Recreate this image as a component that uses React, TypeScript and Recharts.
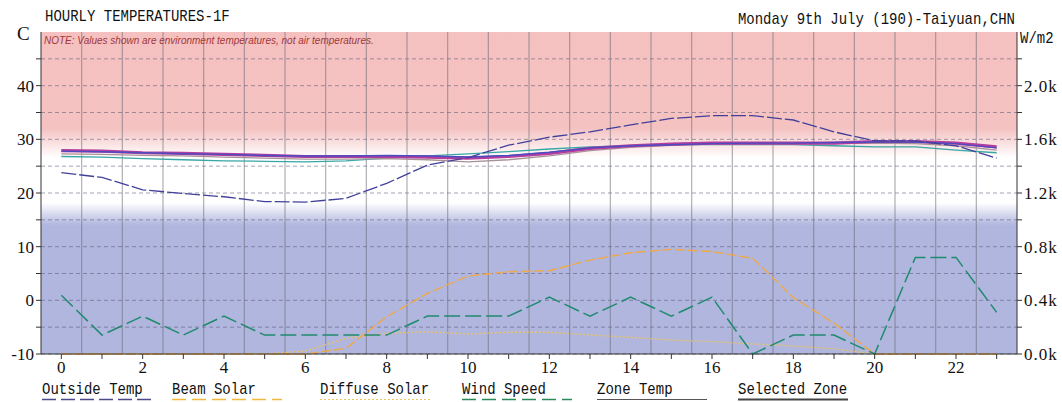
import React from 'react';
import { LineChart, Line, XAxis, YAxis, CartesianGrid, ReferenceLine } from 'recharts';

// hourly values, 0..23
const hours = [0, 1, 2, 3, 4, 5, 6, 7, 8, 9, 10, 11, 12, 13, 14, 15, 16, 17, 18, 19, 20, 21, 22, 23];
const outsideTemp = [23.8, 22.9, 20.6, 19.9, 19.3, 18.4, 18.3, 19.0, 21.8, 25.2, 26.6, 28.9, 30.4, 31.4, 32.7, 33.9, 34.4, 34.4, 33.6, 31.4, 29.7, 29.7, 28.8, 26.5];
const selectedZone = [27.9, 27.8, 27.5, 27.4, 27.2, 27.0, 26.8, 26.8, 26.8, 26.7, 26.5, 26.8, 27.4, 28.3, 28.8, 29.1, 29.3, 29.3, 29.3, 29.3, 29.6, 29.6, 29.3, 28.6];
const zoneA = [27.8, 27.7, 27.5, 27.3, 27.2, 27.0, 26.9, 26.9, 27.0, 26.9, 26.7, 27.0, 27.6, 28.4, 28.8, 29.0, 29.2, 29.3, 29.3, 29.4, 29.5, 29.5, 29.2, 28.4];
const zoneB = [27.3, 27.2, 27.0, 26.9, 26.7, 26.5, 26.3, 26.3, 26.4, 26.2, 25.8, 26.2, 26.9, 27.9, 28.5, 28.9, 29.1, 29.2, 29.2, 29.2, 29.3, 29.2, 28.8, 28.0];
const zoneC = [26.8, 26.7, 26.4, 26.2, 26.0, 25.9, 25.8, 26.0, 26.5, 26.9, 27.3, 27.7, 28.2, 28.6, 28.8, 29.0, 29.0, 29.0, 29.0, 28.8, 28.6, 28.6, 28.0, 27.5];
const beamSolar = [0, 0, 0, 0, 0, 0, 0, 42, 278, 452, 581, 613, 621, 700, 755, 780, 763, 713, 420, 230, 0, 0, 0, 0];
const diffuseSolar = [0, 0, 0, 0, 0, 0, 22, 117, 154, 166, 149, 162, 162, 142, 124, 104, 92, 75, 60, 38, 0, 0, 0, 0];
const windSpeed = [3.1, 1, 2, 1, 2, 1, 1, 1, 1, 2, 2, 2, 3, 2, 3, 2, 3, 0, 1, 1, 0, 5.1, 5.1, 2.2];

const tempTicks = [-10, -5, 0, 5, 10, 15, 20, 25, 30, 35, 40, 45];
const solarTicks = [0, 200, 400, 600, 800, 1000, 1200, 1400, 1600, 1800, 2000, 2200];
const halfHours = [0.5, 1.5, 2.5, 3.5, 4.5, 5.5, 6.5, 7.5, 8.5, 9.5, 10.5, 11.5, 12.5, 13.5, 14.5, 15.5, 16.5, 17.5, 18.5, 19.5, 20.5, 21.5, 22.5];

const legendItems = [
  { name: 'Outside Temp', x: 42, color: '#4a4a8c', dash: '14 5', width: 1.5 },
  { name: 'Beam Solar', x: 172, color: '#f2b840', dash: '14 6', width: 1.5 },
  { name: 'Diffuse Solar', x: 320, color: '#e8c860', dash: '2 2', width: 1.2 },
  { name: 'Wind Speed', x: 462, color: '#2a8a5a', dash: '14 6', width: 1.5 },
  { name: 'Zone Temp', x: 597, color: '#555555', dash: undefined, width: 1 },
  { name: 'Selected Zone', x: 738, color: '#444444', dash: undefined, width: 2 },
];

const data = hours.map((h, i) => ({
  hour: h,
  outside: outsideTemp[i],
  selected: selectedZone[i],
  zoneA: zoneA[i],
  zoneB: zoneB[i],
  zoneC: zoneC[i],
  beam: beamSolar[i],
  diffuse: diffuseSolar[i],
  wind: windSpeed[i],
}));

const MONO = '"Liberation Mono", "DejaVu Sans Mono", monospace';
const SERIF = '"Liberation Serif", "DejaVu Serif", serif';
const tickStyle = { fontFamily: SERIF, fontSize: 17, fill: '#111' };

export default function App() {
  return (
    <div style={{ position: 'relative', width: 1062, height: 402, background: '#fff' }}>
      <style>{'body{margin:0}'}</style>
      <LineChart
        width={1062}
        height={402}
        data={data}
        margin={{ top: 32, right: 0, bottom: 0, left: 0 }}
      >
        <CartesianGrid
          yAxisId="temp"
          vertical={false}
          horizontalValues={tempTicks}
          stroke="rgba(90,90,120,0.55)"
          strokeDasharray="4 3"
          fill="url(#tempBand)"
          fillOpacity={1}
        />
        <XAxis
          dataKey="hour"
          type="number"
          domain={[-0.5, 23.5]}
          ticks={hours}
          interval={0}
          tickFormatter={(h: number) => (h % 2 === 0 ? String(h) : '')}
          tickSize={5}
          height={48}
          stroke="#333"
          tick={tickStyle}
        />
        <YAxis
          yAxisId="temp"
          domain={[-10, 50]}
          ticks={tempTicks}
          interval={0}
          tickFormatter={(v: number) => (v % 10 === 0 ? String(v) : '')}
          tickSize={5}
          width={41}
          stroke="#333"
          tick={tickStyle}
        />
        <YAxis
          yAxisId="solar"
          orientation="right"
          domain={[0, 2400]}
          ticks={solarTicks}
          interval={0}
          tickFormatter={(v: number) => (v % 400 === 0 ? (v / 1000).toFixed(1) + 'k' : '')}
          tickSize={5}
          width={45}
          stroke="#333"
          tick={{ ...tickStyle, letterSpacing: 1 }}
        />
        <YAxis yAxisId="wind" domain={[0, 17]} hide />

        {halfHours.map((h) => (
          <ReferenceLine key={h} x={h} yAxisId="temp" stroke="rgba(110,110,120,0.55)" strokeWidth={1.2} />
        ))}

        <Line yAxisId="solar" dataKey="diffuse" stroke="#eec35a" strokeWidth={1.3} strokeDasharray="2 2" dot={false} isAnimationActive={false} />
        <Line yAxisId="solar" dataKey="beam" stroke="#f0a848" strokeWidth={1.4} strokeDasharray="10 3" dot={false} isAnimationActive={false} />
        <Line yAxisId="wind" dataKey="wind" stroke="#1f8a6e" strokeWidth={1.5} strokeDasharray="16 5" dot={false} isAnimationActive={false} />
        <Line yAxisId="temp" dataKey="zoneC" stroke="#3aa6a6" strokeWidth={1.3} dot={false} isAnimationActive={false} />
        <Line yAxisId="temp" dataKey="zoneB" stroke="#a89298" strokeWidth={1.3} dot={false} isAnimationActive={false} />
        <Line yAxisId="temp" dataKey="selected" stroke="#b63c9e" strokeWidth={3.2} dot={false} isAnimationActive={false} />
        <Line yAxisId="temp" dataKey="zoneA" stroke="#4a4cc0" strokeWidth={1.4} dot={false} isAnimationActive={false} />
        <Line yAxisId="temp" dataKey="outside" stroke="#40409c" strokeWidth={1.3} strokeDasharray="15 3" dot={false} isAnimationActive={false} />
      </LineChart>

      <svg
        width={1062}
        height={402}
        style={{ position: 'absolute', left: 0, top: 0, pointerEvents: 'none' }}
      >
        <defs>
          <linearGradient id="tempBand" x1="0" y1="0" x2="0" y2="1">
            <stop offset="0" stopColor="#f5c0c0" />
            <stop offset="0.3" stopColor="#f5c2c2" />
            <stop offset="0.39" stopColor="#ffffff" />
            <stop offset="0.53" stopColor="#ffffff" />
            <stop offset="0.6" stopColor="#b0b6de" />
            <stop offset="1" stopColor="#b0b6de" />
          </linearGradient>
        </defs>
        <g transform="translate(45,21) scale(1,1.2)">
          <text x={0} y={0} fontFamily={MONO} fontSize={14} fill="#111">HOURLY TEMPERATURES-1F</text>
        </g>
        <g transform="translate(1015,24) scale(1,1.2)">
          <text x={0} y={0} textAnchor="end" fontFamily={MONO} fontSize={14} fill="#111">
            Monday 9th July (190)-Taiyuan,CHN
          </text>
        </g>
        <text x={17} y={40} fontFamily={SERIF} fontSize={19} fill="#111">C</text>
        <g transform="translate(1020,43) scale(1,1.2)">
          <text x={0} y={0} fontFamily={MONO} fontSize={14} fill="#111">W/m2</text>
        </g>
        <text x={44} y={44} fontFamily='"Liberation Sans", Arial, sans-serif' fontSize={10} fontStyle="italic" fill="#a03838">
          NOTE: Values shown are environment temperatures, not air temperatures.
        </text>
        {legendItems.map((it) => (
          <g key={it.name}>
            <g transform={`translate(${it.x},394) scale(1,1.2)`}>
              <text x={0} y={0} fontFamily={MONO} fontSize={14} fill="#111">{it.name}</text>
            </g>
            <line
              x1={it.x}
              x2={it.x + 110}
              y1={399.5}
              y2={399.5}
              stroke={it.color}
              strokeWidth={it.width}
              strokeDasharray={it.dash}
            />
          </g>
        ))}
      </svg>
    </div>
  );
}
